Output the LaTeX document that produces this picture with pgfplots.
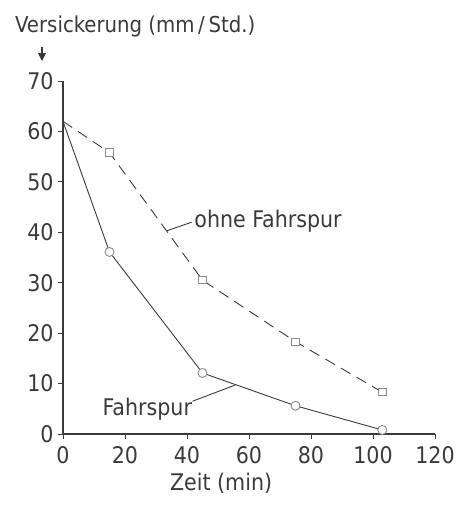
\documentclass[border=0pt]{standalone}
\usepackage{fontspec}
\setmainfont{DejaVu Sans Condensed}
\usepackage{pgfplots}
\pgfplotsset{compat=1.18}
\usetikzlibrary{arrows.meta}
\definecolor{ink}{HTML}{3A3A3A}
\definecolor{mk}{HTML}{8A8A8A}
\begin{document}
\begin{tikzpicture}
\begin{axis}[
  scale only axis, width=372bp, height=353bp,
  xmin=0, xmax=120, ymin=0, ymax=70,
  axis x line=bottom, axis y line=left,
  axis line style={-, line width=1.5bp, ink},
  xtick={0,20,...,120}, ytick={0,10,...,70},
  tick align=outside, major tick length=5bp,
  tick style={line width=1bp, ink},
  /pgf/number format/assume math mode=true,
  ticklabel style={font=\fontsize{23}{26}\selectfont, text=ink},
  xticklabel style={yshift=-4bp},
  yticklabel style={xshift=-1bp},
  clip=false,
]
\addplot[ink, line width=0.9bp, dash pattern=on 11bp off 7bp,
  mark=square*, mark size=3.7bp, mark indices={2,3,4,5},
  mark options={solid, draw=mk, line width=0.9bp, fill=white}]
  coordinates {(0,62) (15,55.8) (45,30.5) (75,18.3) (103,8.3)};
\addplot[ink, line width=0.9bp,
  mark=*, mark size=4.5bp, mark indices={2,3,4,5},
  mark options={solid, draw=mk, line width=0.9bp, fill=white}]
  coordinates {(0,62) (15,36.1) (45,12.1) (75,5.6) (103,0.8)};
\draw[ink, line width=0.9bp] (axis cs:33.5,40.3) -- (axis cs:41.5,42);
\node[anchor=west, text=ink, font=\fontsize{23}{26}\selectfont, inner sep=1bp] at (axis cs:42,42.2) {ohne Fahrspur};
\draw[ink, line width=0.9bp] (axis cs:41.8,6.5) -- (axis cs:55.5,9.7);
\node[anchor=east, text=ink, font=\fontsize{23}{26}\selectfont, inner sep=1bp] at (axis cs:42,5) {Fahrspur};
\node[anchor=north, text=ink, font=\fontsize{23}{26}\selectfont] at ([yshift=-36bp]axis cs:51,0) {Zeit (min)};
\coordinate (O) at (rel axis cs:0,0);
\coordinate (T) at (rel axis cs:0,1);
\end{axis}
\node[anchor=base west, text=ink, font=\fontsize{22}{26}\selectfont, inner sep=0pt] at ([xshift=-48bp,yshift=49bp]T) {Versickerung (mm\,/\,Std.)};
\draw[ink, line width=1.5bp] ([xshift=-21bp,yshift=34bp]T) -- ([xshift=-21bp,yshift=27bp]T);
\fill[ink] ([xshift=-25bp,yshift=28bp]T) -- ([xshift=-17bp,yshift=28bp]T) -- ([xshift=-21bp,yshift=20bp]T) -- cycle;
\pgfresetboundingbox
\useasboundingbox ([xshift=-63bp,yshift=-78bp]O) rectangle ([xshift=394bp,yshift=434bp]O);
\end{tikzpicture}
\end{document}
